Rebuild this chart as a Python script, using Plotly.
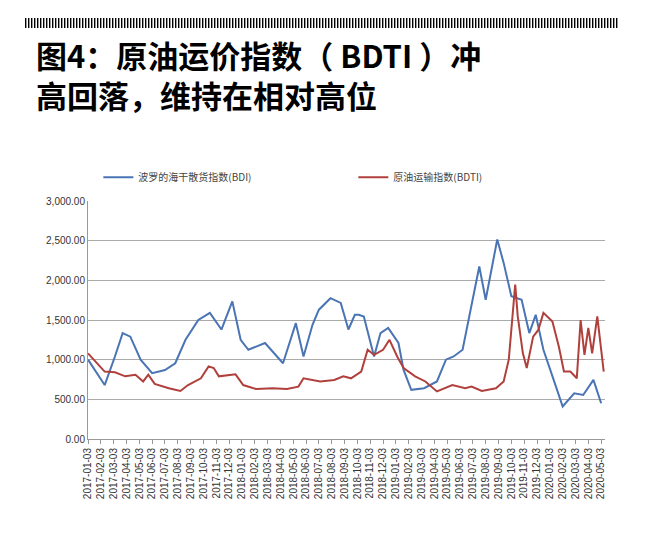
import plotly.graph_objects as go

# month index (0 = 2017-01-03) and values
bdi_x = [0, 0.55, 1.3, 2.1, 2.7, 3.3, 4.1, 5.0, 6.0, 6.8, 7.6, 8.6, 9.5, 10.4, 11.25, 11.9, 12.5,
         13.8, 15.2, 16.2, 16.8, 17.5, 18, 18.9, 19.7, 20.3, 20.8, 21.1, 21.5, 22.3, 22.8, 23.4,
         24.2, 24.6, 25.2, 26.2, 27.2, 27.9, 28.5, 29.2, 29.8, 30.5, 31, 31.4, 31.9, 32.4, 33,
         33.8, 34.4, 34.9, 35.5, 36.3, 37, 37.9, 38.6, 39.4, 40]
bdi_y = [1000, 870, 680, 1040, 1335, 1290, 1000, 830, 870, 955, 1250, 1500, 1590, 1380, 1735, 1250, 1125,
         1210, 955, 1460, 1040, 1440, 1630, 1775, 1715, 1380, 1565, 1565, 1545, 1040, 1335, 1400,
         1210, 870, 620, 640, 725, 1000, 1040, 1125, 1590, 2175, 1755, 2090, 2515, 2220, 1800,
         1755, 1335, 1565, 1125, 745, 410, 575, 555, 745, 450]

bdti_x = [0, 0.6, 1.3, 2.1, 2.9, 3.7, 4.3, 4.7, 5.2, 6.3, 7.2, 7.8, 8.8, 9.4, 9.8, 10.2, 11.5, 12.1,
          13.1, 14.4, 15.5, 16.4, 16.8, 18.1, 19.2, 19.9, 20.5, 21.3, 21.8, 22.3, 23, 23.5, 24.1,
          24.6, 25.5, 26.3, 27.2, 28.4, 29.4, 29.9, 30.7, 31.8, 32.4, 32.8, 33.1, 33.3, 33.5, 33.9,
          34.2, 34.7, 35.1, 35.5, 36.2, 36.7, 37.1, 37.6, 38.1, 38.4, 38.7, 39, 39.3, 39.7, 40.2]
bdti_y = [1080, 975, 850, 840, 790, 810, 725, 810, 695, 640, 605, 680, 765, 915, 895, 790, 815, 680,
          630, 640, 630, 660, 765, 725, 745, 790, 765, 850, 1125, 1060, 1125, 1250, 1040,
          895, 790, 725, 600, 680, 640, 660, 605, 640, 725, 1000, 1545, 1945, 1545, 1080,
          895, 1290, 1375, 1590, 1480, 1165, 850, 850, 765, 1500, 1060, 1400, 1080, 1545, 850]

tick_labels = [f"{y}-{m:02d}-03" for y in (2017, 2018, 2019) for m in range(1, 13)] + \
              [f"2020-{m:02d}-03" for m in range(1, 6)]

fig = go.Figure()
fig.add_trace(go.Scatter(x=bdi_x, y=bdi_y, mode="lines", name="波罗的海干散货指数(BDI)",
                         line=dict(color="#4a74b4", width=2)))
fig.add_trace(go.Scatter(x=bdti_x, y=bdti_y, mode="lines", name="原油运输指数(BDTI)",
                         line=dict(color="#b0403c", width=2)))

# striped bar on top
stripes = []
x0 = 25
while x0 < 617:
    stripes.append(dict(type="rect", xref="paper", yref="paper",
                        x0=(x0 - 88) / 517, x1=(x0 + 1.4 - 88) / 517,
                        y0=(439 - 18) / 238, y1=(439 - 28) / 238,
                        fillcolor="black", line_width=0, layer="above"))
    x0 += 3

fig.update_layout(
    width=650, height=534, plot_bgcolor="white", paper_bgcolor="white",
    margin=dict(l=80, r=53, t=193, b=103),
    font=dict(family="Noto Sans CJK SC", color="#333", size=10),
    showlegend=True,
    legend=dict(orientation="h", x=0.02, y=1.1, xanchor="left", yanchor="middle",
                font=dict(size=10, color="#444"), entrywidth=210),
    shapes=stripes,
    xaxis=dict(range=[0, 40.3], tickvals=list(range(len(tick_labels))), ticktext=tick_labels,
               tickangle=-90, showgrid=False, showline=True, linecolor="#999",
               ticks="outside", ticklen=4, tickcolor="#999", tickfont=dict(size=10, family="Liberation Sans")),
    yaxis=dict(range=[0, 3000], dtick=500, tickformat=",.2f", showgrid=True, gridcolor="#aaa",
               showline=True, linecolor="#999", zeroline=False, tickfont=dict(size=10, family="Liberation Sans")),
    annotations=[dict(text="<b>图4：原油运价指数（ BDTI ）冲</b><br><b>高回落，维持在相对高位</b>",
                      xref="paper", yref="paper",
                      x=(34 - 88) / 517, y=(439 - 30) / 238, xanchor="left", yanchor="top",
                      align="left", showarrow=False,
                      font=dict(size=31, color="black", family="Noto Sans CJK SC"))],
)
fig.write_html("out.html")
